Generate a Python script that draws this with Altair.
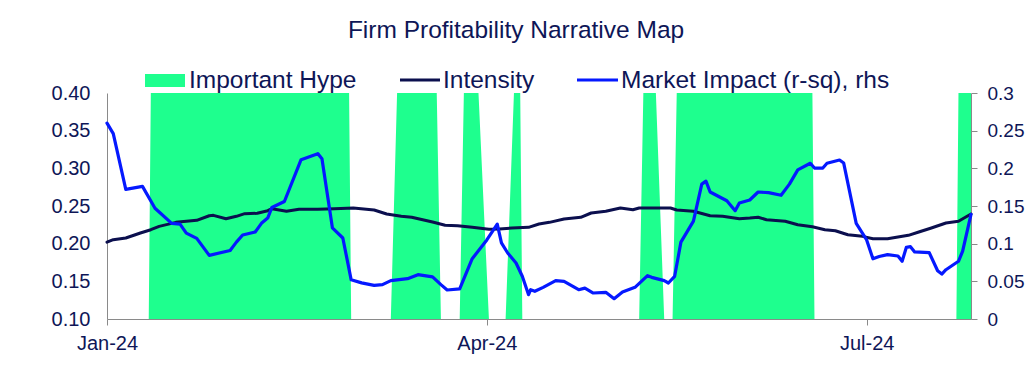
import altair as alt
import pandas as pd

TITLE = "Firm Profitability Narrative Map"
LEGEND_NAMES = ["Important Hype", "Intensity", "Market Impact (r-sq), rhs"]

# Market Impact (r-sq), right-hand axis
mi_dates = [
    "2024-01-01T00:00", "2024-01-02T12:00", "2024-01-05T12:00", "2024-01-09T12:00", "2024-01-12T12:00",
    "2024-01-16T12:00", "2024-01-18T12:00", "2024-01-20T00:00", "2024-01-22T12:00", "2024-01-25T12:00",
    "2024-01-30T12:00", "2024-02-01T00:00", "2024-02-02T12:00", "2024-02-05T12:00", "2024-02-07T00:00",
    "2024-02-08T12:00", "2024-02-09T12:00", "2024-02-12T12:00", "2024-02-16T12:00", "2024-02-20T12:00",
    "2024-02-21T12:00", "2024-02-24T00:00", "2024-02-26T12:00", "2024-02-28T12:00", "2024-03-02T00:00",
    "2024-03-05T00:00", "2024-03-07T00:00", "2024-03-09T00:00", "2024-03-13T00:00", "2024-03-15T12:00",
    "2024-03-19T00:00", "2024-03-21T00:00", "2024-03-22T12:00", "2024-03-25T12:00", "2024-03-28T12:00",
    "2024-04-01T00:00", "2024-04-03T12:00", "2024-04-04T12:00", "2024-04-06T00:00", "2024-04-08T00:00",
    "2024-04-09T12:00", "2024-04-11T00:00", "2024-04-11T12:00", "2024-04-12T12:00", "2024-04-14T12:00",
    "2024-04-17T12:00", "2024-04-19T12:00", "2024-04-23T00:00", "2024-04-24T12:00", "2024-04-26T12:00",
    "2024-04-29T12:00", "2024-05-01T12:00", "2024-05-03T12:00", "2024-05-06T12:00", "2024-05-09T12:00",
    "2024-05-10T12:00", "2024-05-13T12:00", "2024-05-14T12:00", "2024-05-16T00:00", "2024-05-17T12:00",
    "2024-05-20T12:00", "2024-05-22T12:00", "2024-05-23T12:00", "2024-05-24T12:00", "2024-05-28T12:00",
    "2024-05-30T12:00", "2024-05-31T12:00", "2024-06-03T00:00", "2024-06-05T00:00", "2024-06-07T12:00",
    "2024-06-10T12:00", "2024-06-12T12:00", "2024-06-14T12:00", "2024-06-17T12:00", "2024-06-18T12:00",
    "2024-06-20T12:00", "2024-06-21T12:00", "2024-06-24T12:00", "2024-06-25T12:00", "2024-06-28T12:00",
    "2024-07-01T00:00", "2024-07-02T12:00", "2024-07-04T00:00", "2024-07-06T00:00", "2024-07-08T12:00",
    "2024-07-09T12:00", "2024-07-10T12:00", "2024-07-11T12:00", "2024-07-12T12:00", "2024-07-16T00:00",
    "2024-07-18T00:00", "2024-07-19T00:00", "2024-07-20T00:00", "2024-07-23T00:00", "2024-07-24T00:00",
    "2024-07-26T00:00",
]
mi_values = [
    0.260, 0.246, 0.172, 0.176, 0.147,
    0.127, 0.126, 0.114, 0.107, 0.0845,
    0.091, 0.102, 0.1115, 0.1155, 0.127,
    0.134, 0.148, 0.156, 0.2115, 0.2195,
    0.2128, 0.121, 0.1075, 0.052, 0.048,
    0.0447, 0.0456, 0.051, 0.0535, 0.0588,
    0.056, 0.0456, 0.0385, 0.040, 0.080,
    0.105, 0.126, 0.101, 0.0876, 0.0743,
    0.0567, 0.0323, 0.0389, 0.0368, 0.042,
    0.051, 0.050, 0.0389, 0.041, 0.0345,
    0.0354, 0.027, 0.0358, 0.042, 0.0575,
    0.0553, 0.0509, 0.0478, 0.0567, 0.102,
    0.130, 0.179, 0.183, 0.1686, 0.157,
    0.1438, 0.154, 0.158, 0.1686, 0.1677,
    0.1642, 0.179, 0.198, 0.2067, 0.2004,
    0.2004, 0.2067, 0.211, 0.207, 0.127,
    0.105, 0.080, 0.083, 0.0854, 0.0836,
    0.0766, 0.095, 0.096, 0.089, 0.088,
    0.064, 0.0597, 0.0654, 0.0766, 0.090,
    0.139,
]

# Intensity, left-hand axis
int_dates = [
    "2024-01-01T00:00", "2024-01-02T12:00", "2024-01-05T12:00", "2024-01-09T00:00", "2024-01-11T12:00",
    "2024-01-13T12:00", "2024-01-17T12:00", "2024-01-22T12:00", "2024-01-25T12:00", "2024-01-26T12:00",
    "2024-01-29T12:00", "2024-02-01T00:00", "2024-02-03T00:00", "2024-02-06T00:00", "2024-02-08T12:00",
    "2024-02-09T12:00", "2024-02-13T00:00", "2024-02-16T00:00", "2024-02-20T12:00", "2024-02-24T12:00",
    "2024-02-29T00:00", "2024-03-05T00:00", "2024-03-08T00:00", "2024-03-11T12:00", "2024-03-14T00:00",
    "2024-03-19T00:00", "2024-03-22T00:00", "2024-03-25T00:00", "2024-03-28T12:00", "2024-04-01T12:00",
    "2024-04-04T00:00", "2024-04-07T00:00", "2024-04-11T00:00", "2024-04-13T12:00", "2024-04-16T00:00",
    "2024-04-19T12:00", "2024-04-23T12:00", "2024-04-26T00:00", "2024-04-29T12:00", "2024-05-03T00:00",
    "2024-05-06T00:00", "2024-05-07T12:00", "2024-05-15T00:00", "2024-05-16T12:00", "2024-05-20T12:00",
    "2024-05-24T12:00", "2024-05-27T12:00", "2024-05-31T12:00", "2024-06-03T00:00", "2024-06-05T00:00",
    "2024-06-07T00:00", "2024-06-11T12:00", "2024-06-14T12:00", "2024-06-18T00:00", "2024-06-21T00:00",
    "2024-06-23T12:00", "2024-06-26T12:00", "2024-06-30T00:00", "2024-07-02T12:00", "2024-07-06T00:00",
    "2024-07-11T00:00", "2024-07-13T12:00", "2024-07-16T12:00", "2024-07-20T00:00", "2024-07-23T00:00",
    "2024-07-26T00:00",
]
int_values = [
    0.202, 0.2053, 0.2075, 0.2142, 0.2185,
    0.223, 0.2283, 0.231, 0.2371, 0.2376,
    0.2331, 0.2363, 0.2398, 0.2403, 0.2438,
    0.2464, 0.243, 0.2456, 0.2456, 0.2464,
    0.2473, 0.2447, 0.2394, 0.2363, 0.235,
    0.2288, 0.2244, 0.2238, 0.2217, 0.2191,
    0.2195, 0.2208, 0.2217, 0.2261, 0.2283,
    0.2327, 0.235, 0.2407, 0.243, 0.2473,
    0.2451, 0.2473, 0.2473, 0.2447, 0.243,
    0.2371, 0.2363, 0.2331, 0.234, 0.235,
    0.2318, 0.2297, 0.2252, 0.2225, 0.2185,
    0.2172, 0.2119, 0.2097, 0.2066, 0.2066,
    0.2111, 0.2155, 0.2208, 0.2274, 0.2297,
    0.2394,
]

# Important Hype flag (1 = hype), drawn as a full-height area
hype_dates = [
    "2024-01-01T00:00", "2024-01-11T00:00", "2024-01-11T12:00", "2024-02-28T00:00", "2024-02-28T12:00",
    "2024-03-09T00:00", "2024-03-10T12:00", "2024-03-20T00:00", "2024-03-21T00:00",
    "2024-03-25T12:00", "2024-03-26T12:00", "2024-03-30T00:00", "2024-04-01T12:00",
    "2024-04-05T12:00", "2024-04-07T12:00", "2024-04-09T00:00", "2024-04-09T12:00",
    "2024-05-07T12:00", "2024-05-08T12:00", "2024-05-11T12:00", "2024-05-13T12:00",
    "2024-05-15T12:00", "2024-05-16T12:00", "2024-06-18T00:00", "2024-06-18T12:00",
    "2024-07-22T12:00", "2024-07-23T00:00", "2024-07-26T00:00",
]
hype_values = [
    0, 0, 1, 1, 0,
    0, 1, 1, 0,
    0, 1, 1, 0,
    0, 1, 1, 0,
    0, 1, 1, 0,
    0, 1, 1, 0,
    0, 1, 1,
]

x_tick_dates = ["2024-01-01T00:00", "2024-04-01T00:00", "2024-07-01T00:00"]
x_domain_dates = ["2024-01-01T00:00", "2024-07-26T00:00"]
left_ticks = [0.10, 0.15, 0.20, 0.25, 0.30, 0.35, 0.40]
right_ticks = [0, 0.05, 0.1, 0.15, 0.2, 0.25, 0.3]

GREEN = "#1eff8e"
NAVY = "#0b0f4e"
BLUE = "#0519ff"
TEXT = "#0e1657"
GREY = "#8a8a8a"
FONT = "Liberation Sans"


def dt(s):
    t = pd.Timestamp(s)
    return alt.DateTime(year=t.year, month=t.month, date=t.day, hours=t.hour)


mi_df = pd.DataFrame({"date": mi_dates, "v": mi_values})
int_df = pd.DataFrame({"date": int_dates, "v": int_values})
hype_df = pd.DataFrame({"date": hype_dates, "v": hype_values})

x_enc = alt.X(
    "date:T",
    scale=alt.Scale(domain=[dt(d) for d in x_domain_dates]),
    axis=alt.Axis(
        values=[dt(d) for d in x_tick_dates],
        format="%b-%y",
        title=None,
        grid=False,
        tickSize=6,
        labelPadding=8,
        labelFlush=False,
        labelOverlap=False,
    ),
)

hype = alt.Chart(hype_df).mark_area(color=GREEN, opacity=1, interpolate="linear").encode(
    x=x_enc,
    y=alt.Y("v:Q", scale=alt.Scale(domain=[0, 1], nice=False), axis=None),
)

intensity = alt.Chart(int_df).mark_line(
    color=NAVY, strokeWidth=3, strokeJoin="round", strokeCap="round"
).encode(
    x=x_enc,
    y=alt.Y(
        "v:Q",
        scale=alt.Scale(domain=[0.1, 0.4], nice=False, zero=False),
        axis=alt.Axis(
            orient="left", values=left_ticks, format=".2f", title=None, grid=False,
            ticks=False, tickSize=0, labelPadding=17,
        ),
    ),
)

impact = alt.Chart(mi_df).mark_line(
    color=BLUE, strokeWidth=3.2, strokeJoin="round", strokeCap="round"
).encode(
    x=x_enc,
    y=alt.Y(
        "v:Q",
        scale=alt.Scale(domain=[0, 0.3], nice=False),
        axis=alt.Axis(
            orient="right", values=right_ticks, format="~g", title=None, grid=False,
            tickSize=6, labelPadding=10, labelFontSize=19,
        ),
    ),
)

one = alt.Data(values=[{}])
LEG_FS = 24.5

title = alt.Chart(one).mark_text(
    font=FONT, fontSize=LEG_FS, color=TEXT, align="center", baseline="alphabetic"
).encode(x=alt.value(409), y=alt.value(-55), text=alt.value(TITLE))

leg_rect = alt.Chart(one).mark_rect(color=GREEN).encode(
    x=alt.value(38), x2=alt.value(78), y=alt.value(-19), y2=alt.value(-6)
)
leg_int = alt.Chart(one).mark_rule(color=NAVY, strokeWidth=3).encode(
    x=alt.value(293), x2=alt.value(333), y=alt.value(-13)
)
leg_mi = alt.Chart(one).mark_rule(color=BLUE, strokeWidth=3).encode(
    x=alt.value(470), x2=alt.value(511), y=alt.value(-13)
)


def leg_text(label, xpos):
    return alt.Chart(one).mark_text(
        font=FONT, fontSize=LEG_FS, color=TEXT, align="left", baseline="alphabetic"
    ).encode(x=alt.value(xpos), y=alt.value(-5), text=alt.value(label))


chart = alt.layer(
    hype, intensity, impact,
    leg_rect, leg_int, leg_mi,
    leg_text(LEGEND_NAMES[0], 82), leg_text(LEGEND_NAMES[1], 336), leg_text(LEGEND_NAMES[2], 514),
    title,
).resolve_scale(y="independent").properties(
    width=864,
    height=226,
    autosize=alt.AutoSizeParams(type="none"),
    padding={"left": 99, "top": 85, "right": 54, "bottom": 40},
    background="white",
).configure_view(stroke=None).configure_axis(
    domainColor=GREY, tickColor=GREY, domainWidth=1, tickWidth=1,
    labelColor=TEXT, labelFont=FONT, labelFontSize=20,
)

chart.save("out.html", embed_options={"renderer": "svg", "actions": False})
